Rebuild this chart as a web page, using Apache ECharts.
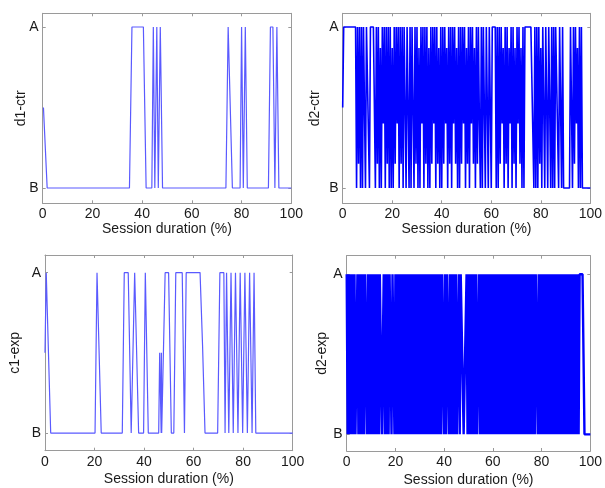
<!DOCTYPE html>
<html><head><meta charset="utf-8">
<script src="https://cdn.jsdelivr.net/npm/echarts@6/dist/echarts.min.js"></script>
<style>html,body{margin:0;padding:0;background:#fff}#c{width:605px;height:488px}</style>
</head><body><div id="c"></div>
<script>
// ---- data ----
const xTicks = [0, 20, 40, 60, 80, 100];
const stateValues = [0, 1];            // B = 0, A = 1
const stateNames = ['B', 'A'];
const panelNames = ['d1-ctr', 'd2-ctr', 'c1-exp', 'd2-exp'];
const xName = 'Session duration (%)';

// d1-ctr : sparse samples (x %, state)
const d1ctrX = [0.3,1.8, 34.9,35.9,40.5,41.6, 43.9,44.5,45.1, 45.3,45.9,46.5, 46.7,47.3,48.2,
  73.7,74.6,75.4,76.3, 79.4,80.0,80.7,81.5,82.3, 90.8,91.6,92.6,93.4,94.2,95.0, 100];
const d1ctrY = [0.5,0, 0,1,1,0, 0,1,0, 0,1,0, 0,1,0,
  0,1,1,0, 0,1,0,1,0, 0,1,1,0,1,0, 0];

// d2-ctr : samples every 0.4 %
const d2ctrStep = 0.4;
const d2ctrY = [
  0.5,1,1,1,1,1,1,1,1,1,
  1,1,1,1,0,1,0.15,1,0,1,
  0,1,1,0,1,1,1,0,1,1,
  1,1,1,0,1,0.15,1,0,0.87,0,
  1,0.4,1,0,1,0.15,1,0,1,0,
  0.87,0,1,0.15,1,0.4,1,0,1,0.15,
  1,0,1,1,0,1,1,0,1,0,
  1,1,0,1,0.15,1,0,0.87,0,1,
  0.4,1,0,1,0.15,1,0,0.87,0,1,
  0.15,1,0.4,1,0,1,0.15,0.87,0,1,
  0,1,0.15,1,0.4,0.87,0,1,0.15,1,
  0,1,0.4,1,0.15,0.87,0,1,0,1,
  0.15,1,0.4,1,0,0.87,0.15,1,0,1,
  0.4,1,0.15,0.87,0,1,0.15,1,0.4,0,
  1,0,1,1,0,1,1,0,1,1,
  0,1,1,1,1,0,1,0,1,0.15,
  1,0.4,0.87,0,1,0.15,1,0,0.87,0.4,
  1,0,1,0.15,0.87,0,1,0.4,1,0.15,
  0.87,0,1,0,1,1,1,1,1,1,
  1,1,1,0,1,0,1,0,1,0.15,
  0.87,0,1,1,0,1,1,0,1,1,
  0,1,0,1,0,1,1,1,0,1,
  1,0,1,0,0,0,0,0,0,0,
  1,1,0,1,0.15,1,0.4,0.87,0,1,
  0,1,0,0,0,0,0,0,0,0,0
];

// c1-exp : sparse samples (x %, state)
const c1expX = [0,0.5,1.3,2.3, 20.2,21.0,21.8,22.7, 31.2,32.0,33.6,34.8, 35.4,36.2,37.0,37.8,
  39.8,40.5,40.9,41.7, 45.9,46.3,46.7,46.9,47.0,47.1, 47.7,48.5,49.9,51.0,
  52.0,52.8,55.4,56.3,57.0,62.6,63.6,64.6, 69.7,70.6,72.2,72.7,
  73.3,74.2,75.1,76.0,76.9,77.9,78.8,79.8,80.7,81.7,82.6,83.6,84.4,85.1, 100];
const c1expY = [0.5,1,1,0, 0,1,1,0, 0,1,1,0, 0,1,1,0,
  0,1,1,0, 0,0.5,0.5,0,0.5,0, 0,1,1,0,
  0,1,1,0,1,1,0.55,0, 0,1,1,0,
  1,0,1,0,1,0,1,0,1,0,1,0,1,0, 0];

// d2-exp : samples every 0.4 %
const d2expStep = 0.4;
const d2expY = [
  1,0,1,0,1,0,1,0,1,0,
  0,1,0,1,0,1,0,1,0,1,
  1,0,1,0,1,0,1,0,1,0,
  1,0,1,0,1,1,0,0,1,0,
  1,0,1,0,1,1,0,1,1,0,
  1,0,1,0,1,0,1,0,1,0,
  1,0,1,0,1,0,1,0,1,0,
  1,0,1,0,1,0,1,0,1,0,
  1,0,1,0,1,0,1,0,1,0,
  1,0,1,0,1,0,1,0,1,1,
  0,1,0,1,1,0,1,0,1,0,
  1,0,1,0,0,1,0,1,1,1,
  0,0,0,1,0,1,0,1,0,1,
  0,1,0,1,0,0,1,0,1,0,
  1,0,1,0,1,0,1,0,1,0,
  1,0,1,0,1,0,1,0,1,0,
  1,0,1,0,1,0,1,0,1,0,
  1,0,1,0,1,0,1,0,1,0,
  1,0,1,0,1,0,1,0,1,0,
  1,0,1,0,1,1,0,1,0,1,
  0,1,0,1,0,1,0,1,0,1,
  0,1,0,1,0,1,0,1,0,1,
  0,1,0,1,0,1,0,1,0,1,
  0,1,0,1,0,1,0,1,0,1,
  1,1,1,0.5,0,0,0,0,0,0,0
];

// ---- build ----
const pairs = (xs, ys) => ys.map((v, i) => [xs[i], v]);
const stepped = (step, ys) => ys.map((v, i) => [i * step, v]);
const seriesData = [
  pairs(d1ctrX, d1ctrY),
  stepped(d2ctrStep, d2ctrY),
  pairs(c1expX, c1expY),
  stepped(d2expStep, d2expY)
];

const layout = [
  {left: 42.7, top: 13.3, width: 248.6, height: 190, ymin: -0.095, ymax: 1.085, yGap: 14.5, xGap: 18},
  {left: 342.7, top: 13.3, width: 248.3, height: 190, ymin: -0.095, ymax: 1.085, yGap: 21, xGap: 18},
  {left: 45, top: 255, width: 247.7, height: 195.7, ymin: -0.11, ymax: 1.11, yGap: 23, xGap: 21},
  {left: 346.7, top: 255.7, width: 246.3, height: 195.3, ymin: -0.104, ymax: 1.116, yGap: 18, xGap: 22}
];
const lineLook = [
  {color: '#5a5aff', width: 1.2},
  {color: '#0000ff', width: 1.6},
  {color: '#5a5aff', width: 1.2},
  {color: '#0000ff', width: 2.4}
];

const FONT = '"Liberation Sans", Arial, sans-serif';
const AX = '#9a9a9a';
const TXT = '#1a1a1a';

const grid = [], xAxis = [], yAxis = [], series = [];
layout.forEach((g, i) => {
  grid.push({left: g.left, top: g.top, width: g.width, height: g.height, containLabel: false});
  const xBase = {
    gridIndex: i, type: 'value', min: xTicks[0], max: xTicks[xTicks.length - 1],
    interval: xTicks[1] - xTicks[0],
    axisLine: {show: true, onZero: false, lineStyle: {color: AX, width: 1}},
    axisTick: {show: true, inside: true, length: 3, lineStyle: {color: AX}},
    splitLine: {show: false}
  };
  xAxis.push(Object.assign({}, xBase, {
    position: 'bottom',
    axisLabel: {margin: 4, color: TXT, fontSize: 14, fontFamily: FONT},
    name: xName, nameLocation: 'middle', nameGap: g.xGap,
    nameTextStyle: {color: TXT, fontSize: 14, fontFamily: FONT}
  }));
  xAxis.push(Object.assign({}, xBase, {position: 'top', axisLabel: {show: false}}));
  const yBase = {
    gridIndex: i, type: 'value', min: g.ymin, max: g.ymax,
    axisLine: {show: true, onZero: false, lineStyle: {color: AX, width: 1}},
    axisTick: {show: true, inside: true, length: 3, customValues: stateValues, lineStyle: {color: AX}},
    splitLine: {show: false}
  };
  yAxis.push(Object.assign({}, yBase, {
    position: 'left',
    axisLabel: {margin: 4, color: TXT, fontSize: 14, fontFamily: FONT,
      customValues: stateValues, formatter: v => stateNames[stateValues.indexOf(Math.round(v))]},
    name: panelNames[i], nameLocation: 'middle', nameGap: g.yGap, nameRotate: 90,
    nameMoveOverlap: false,
    nameTextStyle: {color: TXT, fontSize: 14, fontFamily: FONT}
  }));
  yAxis.push(Object.assign({}, yBase, {position: 'right', axisLabel: {show: false}}));
  series.push({
    type: 'line', xAxisIndex: 2 * i, yAxisIndex: 2 * i, data: seriesData[i],
    symbol: 'none', showSymbol: false, smooth: false, sampling: null,
    lineStyle: {color: lineLook[i].color, width: lineLook[i].width, join: 'bevel'},
    emphasis: {disabled: true}, silent: true
  });
});

const chart = echarts.init(document.getElementById('c'), null, {renderer: 'canvas'});
chart.setOption({animation: false, backgroundColor: '#fff', grid, xAxis, yAxis, series});
</script></body></html>
